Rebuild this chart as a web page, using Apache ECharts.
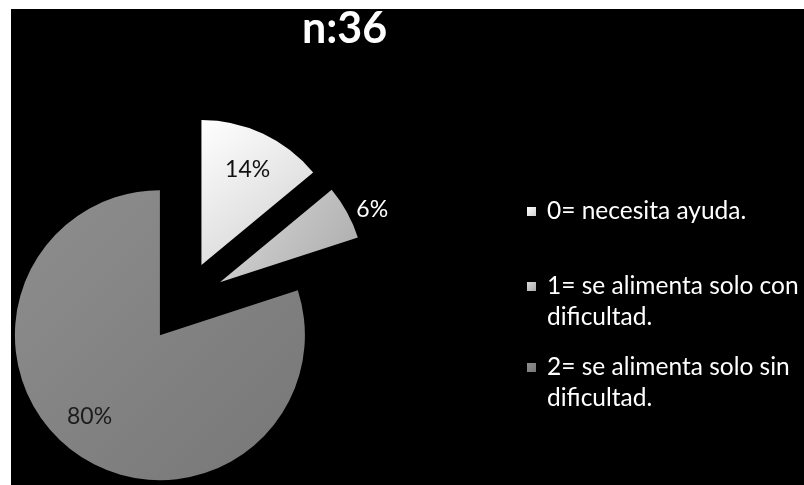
<!DOCTYPE html>
<html>
<head>
<meta charset="utf-8">
<script src="https://cdn.jsdelivr.net/npm/echarts@6/dist/echarts.min.js"></script>
<style>
  html, body { margin: 0; padding: 0; background: #ffffff; }
  #chart { width: 804px; height: 485px; }
</style>
</head>
<body>
<div id="chart"></div>
<script>
// Alimentación: distribución de la muestra (n = 36)
const titleText = 'n:36';
const categories = [
  '0= necesita ayuda.',
  '1= se alimenta solo con dificultad.',
  '2= se alimenta solo sin dificultad.'
];
const percentages = [14, 6, 80];
// Legend text as it is wrapped on screen
const legendLines = [
  ['0= necesita ayuda.'],
  ['1= se alimenta solo con', 'dificultad.'],
  ['2= se alimenta solo sin', 'dificultad.']
];

const FONT = 'Lato, "Open Sans", sans-serif';

function grad(c1, c2) {
  return {
    type: 'linear', x: 0, y: 0, x2: 1, y2: 1,
    colorStops: [{ offset: 0, color: c1 }, { offset: 1, color: c2 }]
  };
}
const sliceColors = [
  grad('#ffffff', '#cfcfcf'),
  grad('#dadada', '#aaaaaa'),
  grad('#8e8e8e', '#777777')
];
// label placement per slice: empty lines nudge the text along the slice
const labelStyles = [
  { position: 'inside', color: '#111111', formatter: '{d}%\n\n', lineHeight: 27, padding: [0, 0, 0, 28] },
  { position: 'outside', color: '#ffffff', formatter: '{d}%', lineHeight: 26, padding: 0 },
  { position: 'inside', color: '#1c1c1c', formatter: '\n{d}%', lineHeight: 40, padding: [0, 52, 0, 0] }
];

const pieData = categories.map((name, i) => ({
  name: name,
  value: percentages[i],
  selected: true,
  itemStyle: { color: sliceColors[i] },
  label: {
    position: labelStyles[i].position,
    color: labelStyles[i].color,
    formatter: labelStyles[i].formatter,
    lineHeight: labelStyles[i].lineHeight,
    padding: labelStyles[i].padding
  }
}));

// one legend block per category so each can sit at its own height;
// a leading blank line keeps the marker level with the first text line
const legendTops = [196, 240, 321];
const legends = categories.map((name, i) => ({
  data: [name],
  orient: 'vertical',
  left: 527,
  top: legendTops[i],
  padding: 0,
  itemWidth: 9,
  itemHeight: 9,
  icon: 'rect',
  selectedMode: false,
  formatter: () => (legendLines[i].length > 1 ? ' \n' : '') + legendLines[i].join('\n'),
  textStyle: {
    color: '#ffffff',
    fontFamily: FONT,
    fontSize: 24.5,
    lineHeight: 31,
    padding: [0, 0, 0, 6]
  }
}));

const chart = echarts.init(document.getElementById('chart'), null, { renderer: 'canvas' });
chart.setOption({
  animation: false,
  backgroundColor: '#000000',
  title: {
    text: titleText,
    left: 297,
    top: 3,
    textStyle: { color: '#ffffff', fontFamily: FONT, fontWeight: 'bold', fontSize: 43 }
  },
  legend: legends,
  graphic: [
    { type: 'rect', left: 0, top: 0, z: 100, shape: { width: 804, height: 9 }, style: { fill: '#ffffff' } },
    { type: 'rect', left: 0, top: 0, z: 100, shape: { width: 11, height: 485 }, style: { fill: '#ffffff' } }
  ],
  series: [{
    type: 'pie',
    center: [184, 302],
    radius: 145,
    startAngle: 90,
    clockwise: true,
    selectedMode: 'multiple',
    selectedOffset: 41,
    avoidLabelOverlap: false,
    itemStyle: { borderWidth: 0 },
    label: {
      fontFamily: FONT,
      fontSize: 23
    },
    labelLine: { show: false, length: 5, length2: 0 },
    emphasis: { disabled: true },
    data: pieData
  }]
});
</script>
</body>
</html>
